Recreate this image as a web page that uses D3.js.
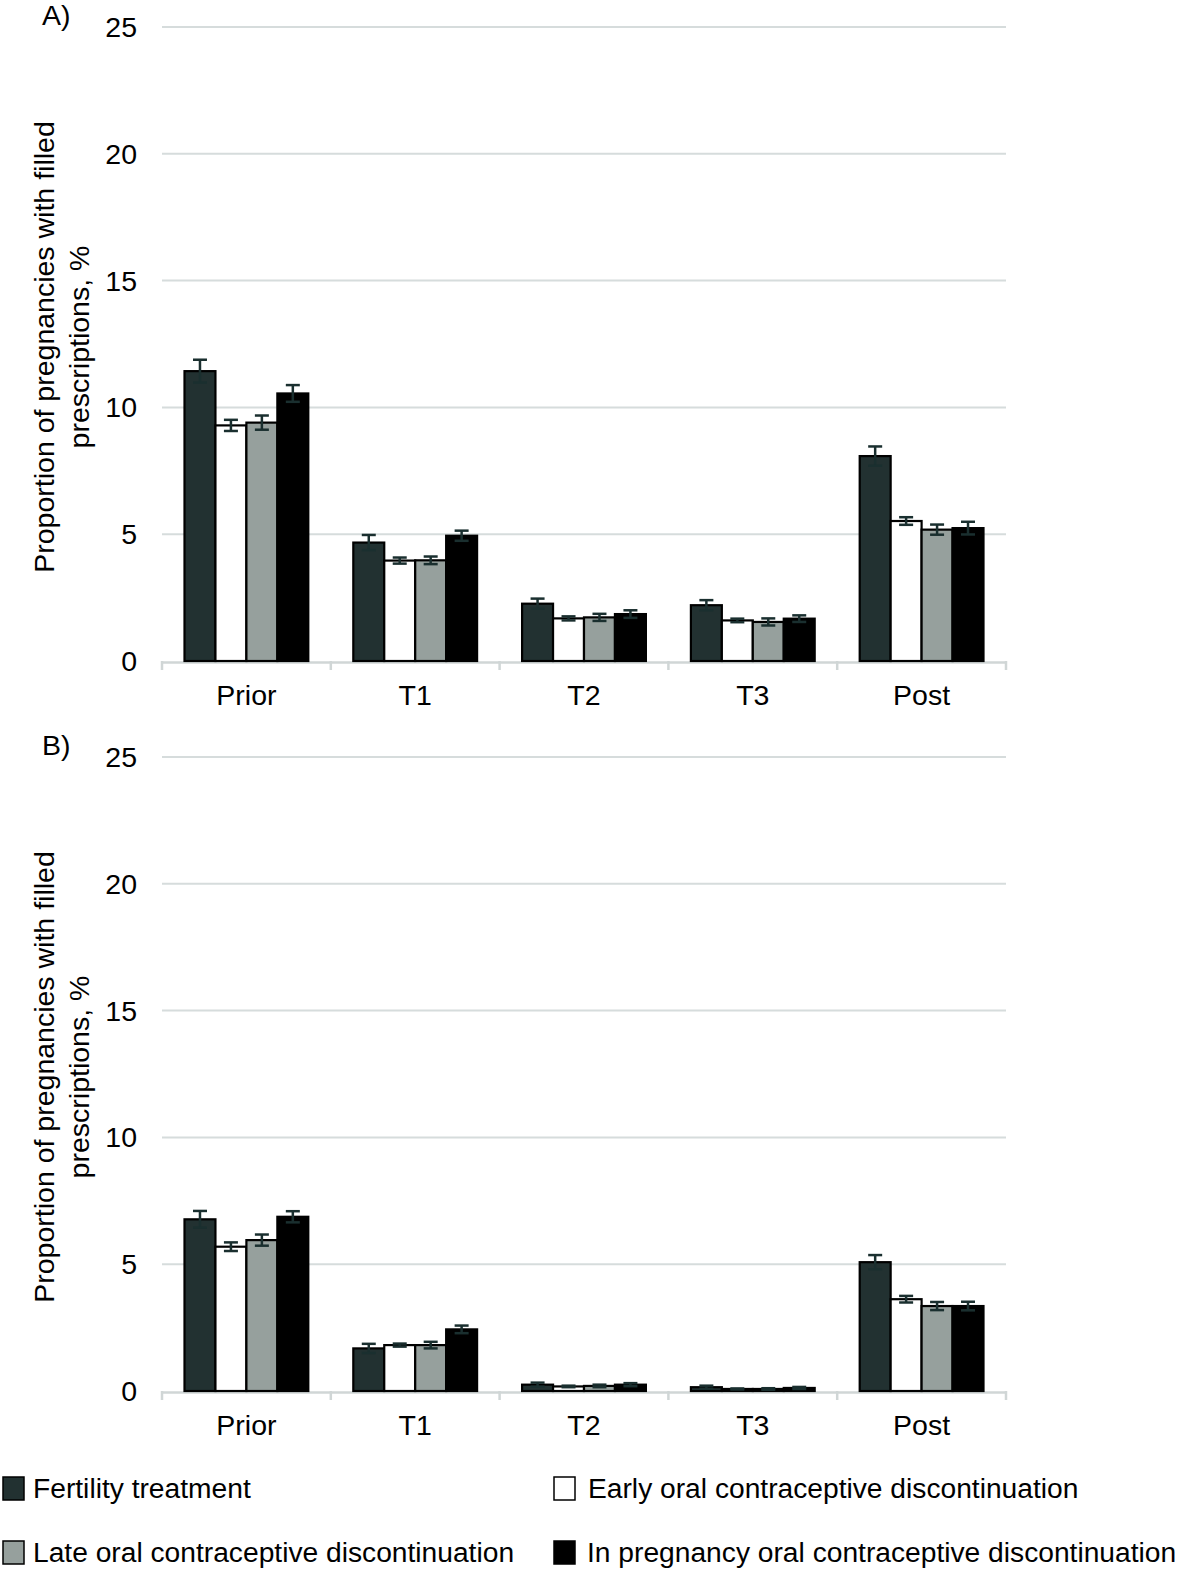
<!DOCTYPE html>
<html><head><meta charset="utf-8">
<script src="https://cdn.jsdelivr.net/npm/d3@7"></script>
<style>body{margin:0;background:#fff}svg{display:block}text{font-family:"Liberation Sans",Arial,sans-serif;fill:#000}</style>
</head><body>
<script>
const categories = ["Prior","T1","T2","T3","Post"];
const seriesNames = ["Fertility treatment","Early oral contraceptive discontinuation","Late oral contraceptive discontinuation","In pregnancy oral contraceptive discontinuation"];
const seriesColors = ["#223131","#ffffff","#96a09d","#000000"];
const yTicks = [0,5,10,15,20,25];
// Panel A values and error (half-width)
const aFertility = [11.43,4.67,2.26,2.2,8.08];
const aEarly = [9.29,3.96,1.68,1.6,5.52];
const aLate = [9.4,3.97,1.72,1.54,5.18];
const aInPreg = [10.55,4.94,1.85,1.67,5.24];
const aFertilityErr = [0.45,0.3,0.2,0.2,0.38];
const aEarlyErr = [0.22,0.12,0.08,0.07,0.15];
const aLateErr = [0.28,0.15,0.14,0.14,0.2];
const aInPregErr = [0.33,0.2,0.15,0.13,0.25];
// Panel B
const bFertility = [6.77,1.68,0.25,0.15,5.08];
const bEarly = [5.69,1.81,0.18,0.08,3.62];
const bLate = [5.95,1.81,0.2,0.08,3.35];
const bInPreg = [6.87,2.43,0.25,0.12,3.35];
const bFertilityErr = [0.33,0.18,0.08,0.06,0.28];
const bEarlyErr = [0.17,0.06,0.03,0.02,0.13];
const bLateErr = [0.22,0.13,0.05,0.03,0.16];
const bInPregErr = [0.22,0.15,0.06,0.04,0.17];

const W=1182,H=1570,FS=28.5,LFS=28.2;
const svg=d3.select("body").append("svg").attr("width",W).attr("height",H);
const x=d3.scaleBand().domain(categories).range([162,1006]).padding(0);
const sub=d3.scaleBand().domain(seriesNames).range([22.5,x.bandwidth()-22.5]).padding(0);

function panel(label, y0, y25, vals, errs){
  const y=d3.scaleLinear().domain([0,25]).range([y0,y25]);
  const g=svg.append("g");
  g.selectAll("line.grid").data(yTicks.filter(d=>d>0)).enter().append("line")
    .attr("x1",162).attr("x2",1006).attr("y1",d=>y(d)).attr("y2",d=>y(d))
    .attr("stroke","#d6dcdc").attr("stroke-width",2);
  g.selectAll("text.yt").data(yTicks).enter().append("text")
    .attr("x",137).attr("y",d=>y(d)+10).attr("text-anchor","end")
    .attr("font-size",FS).text(d=>d);
  const ax=g.append("g").attr("transform",`translate(0,${y(0)+1})`)
    .call(d3.axisBottom(x).tickSize(0).tickFormat(""));
  ax.select(".domain").attr("stroke","#d0d6d6").attr("stroke-width",2.5);
  const bounds=categories.map(c=>x(c)).concat([x.range()[1]]);
  g.selectAll(null).data(bounds).enter().append("line")
    .attr("x1",d=>d).attr("x2",d=>d).attr("y1",y(0)).attr("y2",y(0)+9)
    .attr("stroke","#d0d6d6").attr("stroke-width",2.5);
  g.selectAll(null).data(categories).enter().append("text")
    .attr("x",c=>x(c)+x.bandwidth()/2).attr("y",y(0)+44)
    .attr("text-anchor","middle").attr("font-size",FS).text(c=>c);
  seriesNames.forEach((s,si)=>{
    g.selectAll(null).data(categories).enter().append("rect")
      .attr("x",c=>x(c)+sub(s)).attr("width",sub.bandwidth())
      .attr("y",(c,i)=>y(vals[si][i])).attr("height",(c,i)=>y(0)-y(vals[si][i]))
      .attr("fill",seriesColors[si]).attr("stroke","#000").attr("stroke-width",2.2);
  });
  seriesNames.forEach((s,si)=>{
    categories.forEach((c,i)=>{
      const cx=x(c)+sub(s)+sub.bandwidth()/2;
      const v=vals[si][i], e=errs[si][i];
      const eg=g.append("g").attr("stroke","#1a2f2f").attr("stroke-width",2.5);
      eg.append("line").attr("x1",cx).attr("x2",cx).attr("y1",y(v+e)).attr("y2",y(Math.max(0,v-e)));
      eg.append("line").attr("x1",cx-7).attr("x2",cx+7).attr("y1",y(v+e)).attr("y2",y(v+e));
      eg.append("line").attr("x1",cx-7).attr("x2",cx+7).attr("y1",y(Math.max(0,v-e))).attr("y2",y(Math.max(0,v-e)));
    });
  });
  const cy=(y(0)+y(25))/2+3;
  g.append("text").attr("transform",`translate(54,${cy}) rotate(-90)`)
    .attr("text-anchor","middle").attr("font-size",FS).text("Proportion of pregnancies with filled");
  g.append("text").attr("transform",`translate(89,${cy}) rotate(-90)`)
    .attr("text-anchor","middle").attr("font-size",FS).text("prescriptions, %");
  g.append("text").attr("x",42).attr("y",y(25)-2).attr("font-size",FS).text(label);
}
panel("A)",661,27,[aFertility,aEarly,aLate,aInPreg],[aFertilityErr,aEarlyErr,aLateErr,aInPregErr]);
panel("B)",1391,757,[bFertility,bEarly,bLate,bInPreg],[bFertilityErr,bEarlyErr,bLateErr,bInPregErr]);

const legPos=[[2,1476,33],[553,1476,588],[2,1540,33],[553,1540,587]];
seriesNames.forEach((s,i)=>{
  const [lx,ly,tx]=legPos[i];
  svg.append("rect").attr("x",lx+1).attr("y",ly+1).attr("width",21).attr("height",23)
    .attr("fill",seriesColors[i]).attr("stroke","#000").attr("stroke-width",1.5);
  svg.append("text").attr("x",tx).attr("y",ly+22).attr("font-size",LFS).text(s);
});
</script>
</body></html>
